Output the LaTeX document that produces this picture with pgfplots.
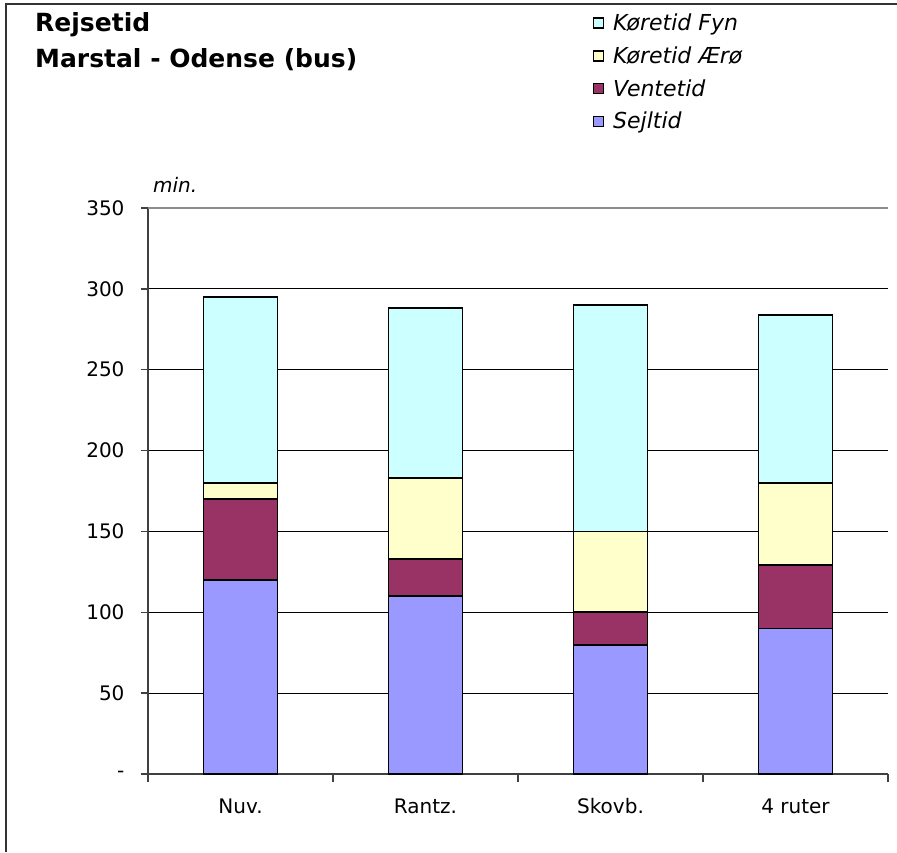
\documentclass[border=0pt]{standalone}
\usepackage{pgfplots}
\pgfplotsset{compat=1.18}
\usepackage{fontspec}
\setmainfont{DejaVu Sans}
\definecolor{sejl}{HTML}{9999FF}
\definecolor{vente}{HTML}{993366}
\definecolor{aero}{HTML}{FFFFCC}
\definecolor{fyn}{HTML}{CCFFFF}
\begin{document}
\begin{tikzpicture}[x=1pt,y=1pt]
\useasboundingbox (0,0) rectangle (897,852);
% frame
\draw[line width=2pt,black!80] (6,0) -- (6,848) -- (897,848);
% titles
\node[anchor=base west,inner sep=0pt,font=\fontsize{25}{29}\selectfont\bfseries] at (35,820) {Rejsetid};
\node[anchor=base west,inner sep=0pt,font=\fontsize{25}{29}\selectfont\bfseries] at (35,784) {Marstal - Odense (bus)};
\node[anchor=base west,inner sep=0pt,font=\fontsize{20}{24}\selectfont\itshape] at (153,659) {min.};
\begin{axis}[
    at={(148pt,78pt)}, anchor=south west,
    scale only axis,
    width=740pt, height=566pt,
    ybar stacked,
    bar width=74pt,
    xmin=0.5, xmax=4.5,
    ymin=0, ymax=350,
    axis y line*=left, axis x line*=bottom,
    axis line style={line width=1.3pt,black!75},
    xtick={1,2,3,4},
    xticklabels={Nuv.,Rantz.,Skovb.,4 ruter},
    minor xtick={0.5,1.5,2.5,3.5,4.5},
    major x tick style={draw=none},
    minor x tick style={line width=1.3pt,black!75},
    minor tick length=8pt,
    ytick={0,50,...,300},
    yticklabels={-\hspace{31pt},50,100,150,200,250,300},
    extra y ticks={350},
    extra y tick labels={350},
    extra y tick style={grid style={line width=1.2pt,black!45}},
    y tick style={line width=1.3pt,black!75},
    major tick length=7pt,
    tick align=outside,
    ymajorgrids,
    grid style={line width=1.2pt,black},
    ticklabel style={font=\fontsize{20}{24}\selectfont},
    xticklabel style={yshift=-14pt},
    yticklabel style={xshift=-13pt},
    every axis plot/.append style={draw=black,line width=1.8pt},
    legend image code/.code={\draw[#1,line width=1.5pt] (0pt,-5pt) rectangle (10pt,5pt);},
    reverse legend,
    legend style={at={(0.598,1.35)},anchor=north west,draw=none,fill=white,
        font=\fontsize{22}{26}\selectfont\itshape,
        row sep=10.5pt,inner xsep=2pt,inner ysep=2pt,
        /tikz/every odd column/.append style={column sep=7pt}},
    legend cell align=left,
]
\addplot[fill=sejl] coordinates {(1,120) (2,110) (3,80) (4,90)};
\addplot[fill=vente] coordinates {(1,50) (2,23) (3,20) (4,39)};
\addplot[fill=aero] coordinates {(1,10) (2,50) (3,50) (4,51)};
\addplot[fill=fyn] coordinates {(1,115) (2,105) (3,140) (4,104)};
\legend{Sejltid,Ventetid,Køretid Ærø,Køretid Fyn}
\end{axis}
\end{tikzpicture}
\end{document}
